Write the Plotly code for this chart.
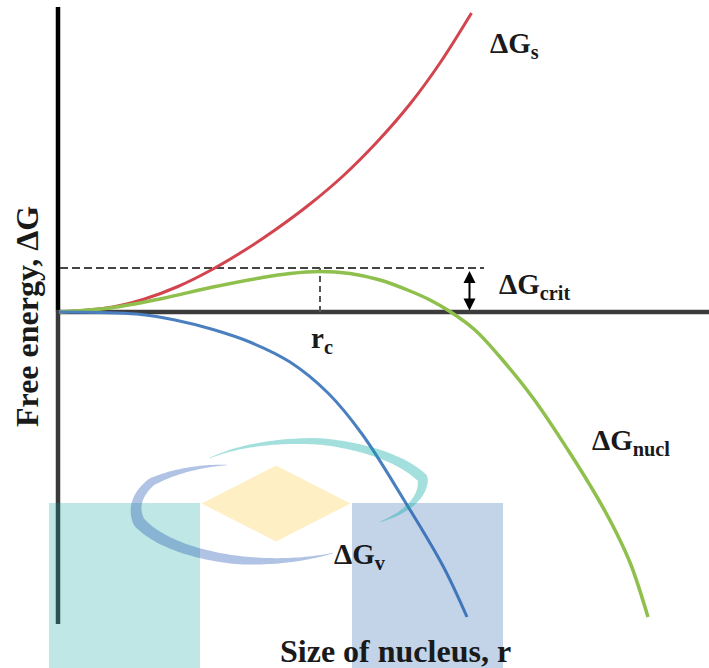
import numpy as np
import plotly.graph_objects as go

# ---- data (r in arbitrary units, G in arbitrary units) ----
r_s = [0, 5.1, 8.4, 11.9, 15.4, 18.6, 21.6, 25.1, 28.4, 31.8, 35.1, 38.1, 41.25]
g_s = [0, 0.45, 1.25, 2.55, 4.3, 6.2, 8.2, 10.8, 13.6, 17.0, 20.8, 24.9, 29.9]

r_nucl = [0, 5.1, 10.1, 15.4, 20.1, 23.1, 26.1, 29.1, 32.1, 35.1, 37.1, 39.1,
          41.6, 44.1, 47.4, 50.9, 53.8, 55.6, 57.2, 58.9]
g_nucl = [0, 0.4, 1.3, 2.5, 3.4, 3.85, 4.05, 3.85, 3.2, 2.1, 1.2, 0.05,
          -1.8, -4.5, -8.6, -13.8, -18.5, -21.8, -25.3, -30.5]

r_v = [0, 4.1, 7.75, 11.6, 15.4, 19.2, 23.1, 26.9, 30.3, 34.5, 38.4, 40.8]
g_v = [0, -0.05, -0.2, -0.8, -1.75, -3.05, -5.0, -8.1, -12.2, -18.8, -25.4, -30.5]

g_crit = 4.4
r_crit = 26.1

# figure geometry
W, H = 709, 668
XR = [-5.9, 65.0]
YR = [-35.6, 31.2]

def px(xp):
    return XR[0] + xp / W * (XR[1] - XR[0])

def py(yp):
    return YR[1] - yp / H * (YR[1] - YR[0])

fig = go.Figure()
fig.add_trace(go.Scatter(x=r_s, y=g_s, mode="lines", line=dict(color="#d2444e", width=3, shape="spline"),
                         name="ΔGs", showlegend=False, hoverinfo="skip"))
fig.add_trace(go.Scatter(x=r_nucl, y=g_nucl, mode="lines", line=dict(color="#8fbf4c", width=3.5, shape="spline"),
                         name="ΔGnucl", showlegend=False, hoverinfo="skip"))
fig.add_trace(go.Scatter(x=r_v, y=g_v, mode="lines", line=dict(color="#4a7fc0", width=3, shape="spline"),
                         name="ΔGv", showlegend=False, hoverinfo="skip"))

shapes = []
# axes
shapes.append(dict(type="line", x0=px(58), x1=px(58), y0=py(7), y1=0, line=dict(color="#000000", width=4.5), layer="below"))
shapes.append(dict(type="line", x0=px(58), x1=px(58), y0=0, y1=py(624), line=dict(color="#3a3a3a", width=4.5), layer="below"))
shapes.append(dict(type="line", x0=px(56), x1=XR[1], y0=0, y1=0, line=dict(color="#3c3c3c", width=4.5), layer="below"))
# dashed guides
shapes.append(dict(type="line", x0=px(60), x1=px(484), y0=g_crit, y1=g_crit,
                   line=dict(color="#444444", width=2.2, dash="8px,4px"), layer="below"))
shapes.append(dict(type="line", x0=r_crit, x1=r_crit, y0=0, y1=g_crit,
                   line=dict(color="#555555", width=2, dash="6px,4px"), layer="below"))

# ---- watermark decoration (paper coords from pixels) ----
def pp(xp, yp):
    return xp / W, 1 - yp / H

def rect(x0, y0, x1, y1, color):
    a, b = pp(x0, y0)
    c, d = pp(x1, y1)
    return dict(type="rect", xref="paper", yref="paper", x0=a, x1=c, y0=d, y1=b,
                fillcolor=color, line=dict(width=0), layer="above")

shapes.append(rect(49, 503, 200, 668, "rgba(0,160,150,0.25)"))
shapes.append(rect(352, 503, 503, 668, "rgba(40,100,175,0.28)"))

def path_from(points):
    s = ""
    for i, (x, y) in enumerate(points):
        a, b = pp(x, y)
        s += ("M" if i == 0 else "L") + f"{a:.5f},{b:.5f} "
    return s + "Z"

diamond = [(201.5, 503.5), (276, 465.5), (350.5, 503.5), (276, 541.5)]
shapes.append(dict(type="path", xref="paper", yref="paper", path=path_from(diamond),
                   fillcolor="rgba(252,195,30,0.26)", line=dict(width=0), layer="above"))

def swoosh(td, kd, wd, color):
    td = np.array(td, float); kd = np.array(kd, float); wd = np.array(wd, float)
    order = np.argsort(td)
    t = np.linspace(td.min(), td.max(), 120)
    k = np.interp(t, td[order], kd[order])
    w = np.interp(t, td[order], wd[order])
    cx, cy, rx, ry = 280, 502, 147, 63
    tr = np.radians(t)
    x = cx + k * rx * np.cos(tr)
    y = cy + k * ry * np.sin(tr)
    dx = np.gradient(x); dy = np.gradient(y)
    n = np.hypot(dx, dy)
    nx, ny = -dy / n, dx / n
    outer = list(zip(x + nx * w / 2, y + ny * w / 2))
    inner = list(zip(x - nx * w / 2, y - ny * w / 2))[::-1]
    return dict(type="path", xref="paper", yref="paper", path=path_from(outer + inner),
                fillcolor=color, line=dict(width=0), layer="above")

shapes.append(swoosh([238.5, 200, 161.7, 107.6, 66], [0.69, 0.93, 1.01, 0.965, 0.886],
                     [0.5, 8, 12, 8.5, 0.5], "rgba(40,90,180,0.36)"))
shapes.append(swoosh([-124.3, -74, -21, 25], [0.845, 1.0, 1.04, 0.75],
                     [0.5, 6.5, 10.5, 0.5], "rgba(0,170,160,0.36)"))

FONT = "Liberation Serif"
ann = []
def label(xp, yp, text, size=29, anchor="left", angle=0):
    ann.append(dict(x=px(xp), y=py(yp), text=text, showarrow=False, xanchor=anchor, yanchor="middle",
                    textangle=angle, font=dict(family=FONT, size=size, color="#1a1a1a")))

label(488, 45, "<b>ΔG<sub>s</sub></b>")
label(497, 286, "<b>ΔG<sub>crit</sub></b>")
label(590, 442, "<b>ΔG<sub>nucl</sub></b>")
label(332, 556, "<b>ΔG<sub>v</sub></b>")
label(309, 340, "<b>r<sub>c</sub></b>")
label(395, 651, "<b>Size of nucleus, r</b>", size=32, anchor="center")
label(27, 317, "<b>Free energy, ΔG</b>", size=32, anchor="center", angle=-90)

# double arrow for the critical barrier
arrow_r = px(469.5)
ann.append(dict(x=arrow_r, y=0.15, ax=arrow_r, ay=g_crit - 0.15, axref="x", ayref="y", xref="x", yref="y",
                text="", showarrow=True, arrowside="end+start", arrowhead=2, arrowsize=1.2,
                arrowwidth=2, arrowcolor="#000000", standoff=0, startstandoff=0))

fig.update_layout(
    width=W, height=H, margin=dict(l=0, r=0, t=0, b=0),
    paper_bgcolor="white", plot_bgcolor="white",
    xaxis=dict(range=XR, visible=False, fixedrange=True),
    yaxis=dict(range=YR, visible=False, fixedrange=True),
    shapes=shapes, annotations=ann, showlegend=False,
)
fig.write_html("out.html")
